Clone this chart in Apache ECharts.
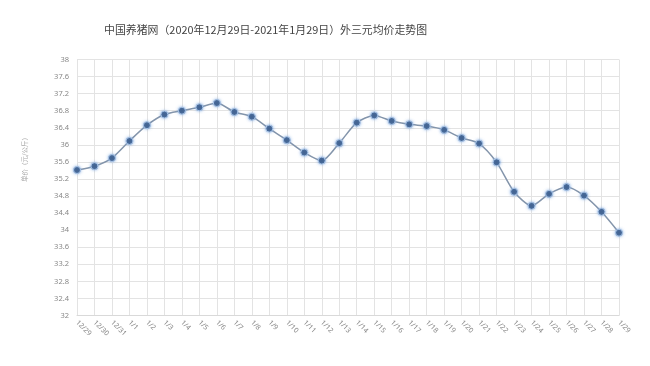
<!DOCTYPE html>
<html><head><meta charset="utf-8">
<script src="https://cdn.jsdelivr.net/npm/echarts@6/dist/echarts.min.js"></script>
<style>html,body{margin:0;padding:0;background:#fff}#c{width:650px;height:366px}</style>
</head><body><div id="c"></div>
<script>
const titleText = '中国养猪网（2020年12月29日-2021年1月29日）外三元均价走势图';
const yName = '单价（元/公斤）';
const categories = ['12/29','12/30','12/31','1/1','1/2','1/3','1/4','1/5','1/6','1/7','1/8','1/9','1/10','1/11','1/12','1/13','1/14','1/15','1/16','1/17','1/18','1/19','1/20','1/21','1/22','1/23','1/24','1/25','1/26','1/27','1/28','1/29'];
const prices = [35.41,35.50,35.69,36.09,36.46,36.71,36.80,36.88,36.98,36.77,36.66,36.38,36.11,35.82,35.63,36.04,36.52,36.69,36.56,36.48,36.44,36.35,36.16,36.03,35.59,34.90,34.57,34.85,35.01,34.81,34.43,33.94];
const yMin = 32, yMax = 38, yStep = 0.4;

const chart = echarts.init(document.getElementById('c'));
chart.setOption({
  backgroundColor: '#fff',
  animation: false,
  title: {
    text: titleText, left: 99, top: 19,
    textStyle: {fontFamily: 'Noto Sans CJK SC', fontSize: 10.9, fontWeight: 'normal', color: '#444'}
  },
  graphic: [{
    type: 'text', x: 25, y: 158, rotation: Math.PI / 2,
    style: {text: yName, fontSize: 6.5, fill: '#aaa', fontFamily: 'Noto Sans CJK SC', align: 'center', verticalAlign: 'middle'}
  }],
  grid: {left: 77, right: 31, top: 59.5, bottom: 50.5},
  xAxis: {
    type: 'category', data: categories, boundaryGap: false,
    axisLine: {show: true, lineStyle: {color: '#d9d9d9'}},
    axisTick: {show: false},
    splitLine: {show: true, lineStyle: {color: '#e3e3e3', width: 1}},
    axisLabel: {interval: 0, rotate: -45, fontSize: 7, color: '#888', margin: 6, fontFamily: 'Noto Sans'}
  },
  yAxis: {
    type: 'value', min: yMin, max: yMax, interval: yStep,
    axisLine: {show: false}, axisTick: {show: false},
    splitLine: {show: true, lineStyle: {color: '#e3e3e3', width: 1}},
    axisLabel: {fontSize: 7.5, color: '#888', margin: 8, fontFamily: 'Noto Sans',
      formatter: v => String(Math.round(v * 10) / 10)}
  },
  series: [{
    type: 'line', data: prices, smooth: 0.25,
    symbol: 'circle', symbolSize: 7,
    lineStyle: {color: '#8495ab', width: 1.5},
    itemStyle: {color: '#3f5f8c', borderColor: '#a9c4e6', borderWidth: 1, shadowBlur: 3, shadowColor: 'rgba(120,165,225,0.7)'}
  }]
});
</script></body></html>
